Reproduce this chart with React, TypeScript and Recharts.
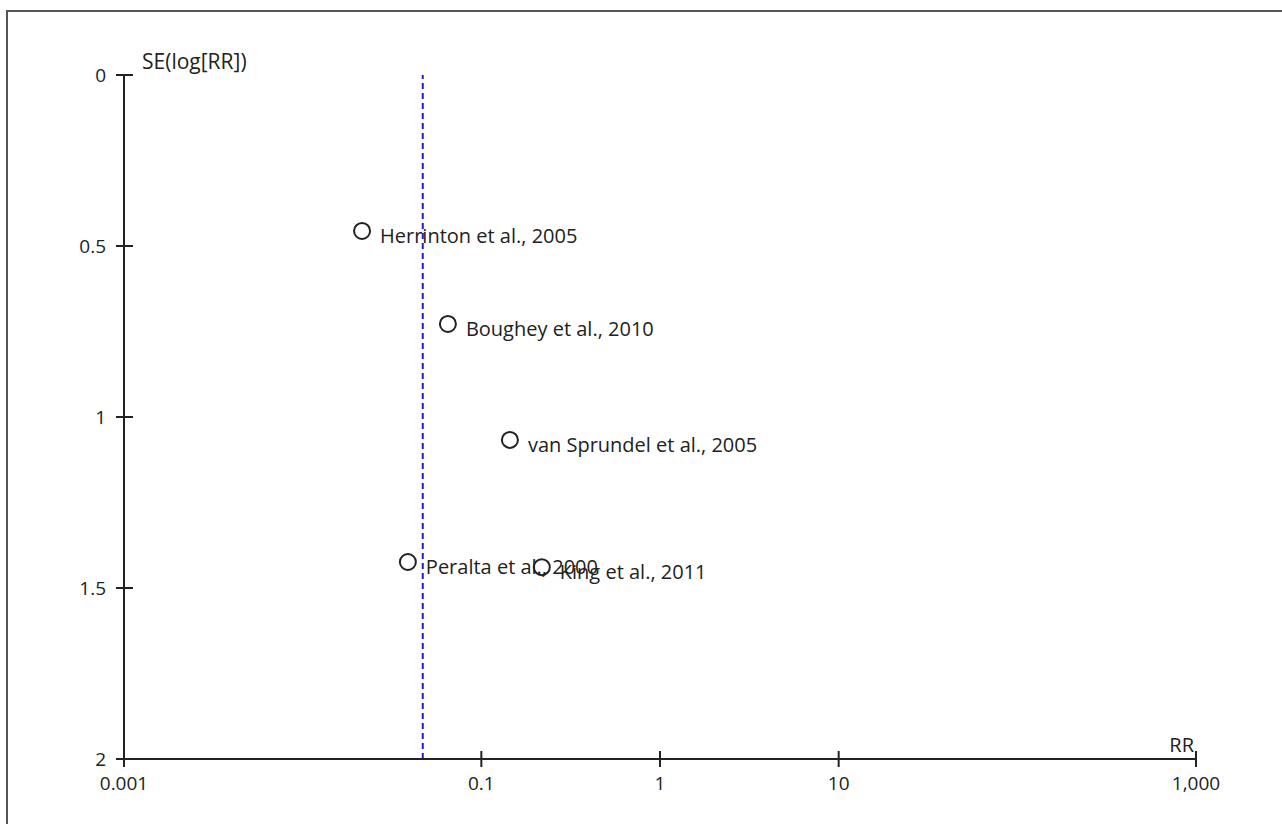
import React from 'react'
import {
  ScatterChart,
  Scatter,
  XAxis,
  YAxis,
  ReferenceLine
} from 'recharts'

const studies = ['Herrinton et al., 2005', 'Boughey et al., 2010', 'van Sprundel et al., 2005', 'Peralta et al., 2000', 'King et al., 2011']
const rrValues = [0.0215, 0.065, 0.1445, 0.0388, 0.218]
const seValues = [0.456, 0.728, 1.067, 1.424, 1.439]

const xTicks = [0.001, 0.1, 1, 10, 1000]
const xTickLabels = ['0.001', '0.1', '1', '10', '1,000']
const yTicks = [0, 0.5, 1, 1.5, 2]
const yTickLabels = ['0', '0.5', '1', '1.5', '2']

const pooledRR = 0.047

const FONT = '"Open Sans", Lato, sans-serif'
const INK = '#222'

const data = studies.map((name, i) => ({ name, rr: rrValues[i], se: seValues[i] }))

function XTick(props: any) {
  const { x, y, payload } = props
  const idx = xTicks.indexOf(payload.value)
  return (
    <g>
      <line x1={x} x2={x} y1={y - 8} y2={y + 8} stroke={INK} strokeWidth={2} />
      <text x={x} y={y + 31} textAnchor="middle" fontSize={19} fontFamily={FONT} fill={INK}>
        {idx >= 0 ? xTickLabels[idx] : payload.value}
      </text>
    </g>
  )
}

function YTick(props: any) {
  const { x, y, payload } = props
  const idx = yTicks.indexOf(payload.value)
  return (
    <g>
      <line x1={x - 8} x2={x + 9} y1={y} y2={y} stroke={INK} strokeWidth={2} />
      <text x={x - 18} y={y} dy="0.35em" textAnchor="end" fontSize={19} fontFamily={FONT} fill={INK}>
        {idx >= 0 ? yTickLabels[idx] : payload.value}
      </text>
    </g>
  )
}

function StudyPoint(props: any) {
  const { cx, cy, payload } = props
  return (
    <g>
      <circle cx={cx} cy={cy} r={8} fill="none" stroke={INK} strokeWidth={2} />
      <text x={cx + 18} y={cy + 12} fontSize={20} fontFamily={FONT} fill={INK}>
        {payload.name}
      </text>
    </g>
  )
}

export default function App() {
  return (
    <div style={{ position: 'absolute', left: 0, top: 0, width: 1282, height: 824, overflow: 'hidden', background: '#fff' }}>
      <div
        style={{
          position: 'absolute',
          left: 6,
          top: 10,
          width: 1400,
          height: 1000,
          borderLeft: '2px solid #555',
          borderTop: '2px solid #555'
        }}
      />
      <div style={{ position: 'absolute', left: 0, top: 0 }}>
        <ScatterChart width={1282} height={824} margin={{ top: 75, right: 86, bottom: 25, left: 64 }}>
          <XAxis
            type="number"
            dataKey="rr"
            scale="log"
            domain={[0.001, 1000]}
            ticks={xTicks}
            interval={0}
            allowDataOverflow
            height={40}
            tickSize={0}
            tickMargin={0}
            tickLine={false}
            axisLine={{ stroke: INK, strokeWidth: 2 }}
            tick={(p: any) => <XTick {...p} />}
            label={{
              content: (p: any) => {
                const vb = p.viewBox
                return (
                  <text x={vb.x + vb.width - 2} y={vb.y - 7} textAnchor="end" fontSize={20} fontFamily={FONT} fill={INK}>
                    RR
                  </text>
                )
              }
            }}
          />
          <YAxis
            type="number"
            dataKey="se"
            domain={[0, 2]}
            reversed
            ticks={yTicks}
            interval={0}
            width={60}
            tickSize={0}
            tickMargin={0}
            tickLine={false}
            axisLine={{ stroke: INK, strokeWidth: 2 }}
            tick={(p: any) => <YTick {...p} />}
            label={{
              content: (p: any) => {
                const vb = p.viewBox
                return (
                  <text x={vb.x + vb.width + 18} y={vb.y - 6} fontSize={21} fontFamily={FONT} fill={INK}>
                    SE(log[RR])
                  </text>
                )
              }
            }}
          />
          <ReferenceLine x={pooledRR} stroke="#1c1cd6" strokeWidth={2} strokeDasharray="6 4" />
          <Scatter data={data} shape={(p: any) => <StudyPoint {...p} />} isAnimationActive={false} />
        </ScatterChart>
      </div>
    </div>
  )
}
